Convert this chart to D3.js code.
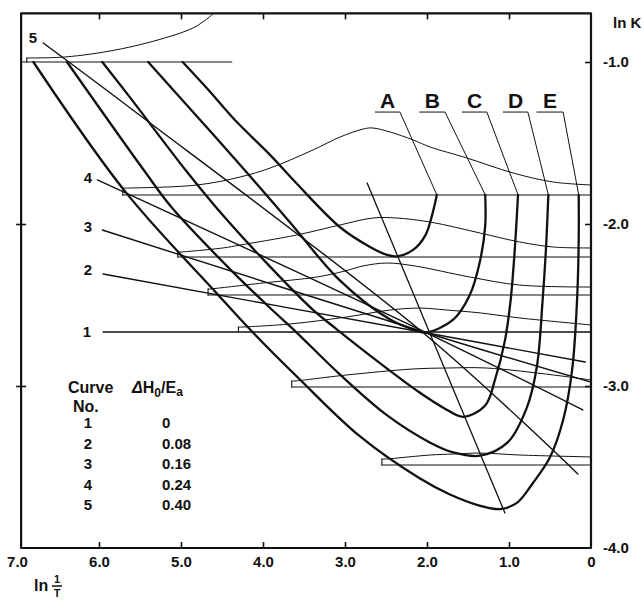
<!DOCTYPE html>
<html><head><meta charset="utf-8">
<script src="https://cdn.jsdelivr.net/npm/d3@7"></script>
<style>
body{margin:0;background:#fff}
svg{display:block}
text{font-family:"Liberation Sans",Arial,sans-serif;font-weight:bold;fill:#111}
</style>
</head><body>
<svg id="c" width="644" height="601"></svg>
<script>
// ---------- data (x = ln 1/T, y = ln K) ----------
const xTicks = [7, 6, 5, 4, 3, 2, 1, 0];
const xTickLabels = ["7.0", "6.0", "5.0", "4.0", "3.0", "2.0", "1.0", "0"];
const yTicks = [-1, -2, -3, -4];
const yTickLabels = ["-1.0", "-2.0", "-3.0", "-4.0"];
const frameX = [6.95, 0];
const frameY = [-0.70, -4.0];

const curveNames = ["A", "B", "C", "D", "E"];
const curveA = [[4.98,-1.00],[4.67,-1.17],[4.34,-1.36],[3.92,-1.57],[3.59,-1.75],[3.06,-2.02],[2.70,-2.14],[2.49,-2.19],[2.37,-2.20],[2.17,-2.16],[2.02,-2.07],[1.93,-1.93],[1.88,-1.82]];
const curveB = [[5.40,-1.00],[5.10,-1.17],[4.34,-1.60],[3.67,-1.99],[3.06,-2.35],[2.45,-2.59],[2.17,-2.65],[2.02,-2.67],[1.68,-2.59],[1.48,-2.44],[1.35,-2.22],[1.29,-2.01],[1.29,-1.82]];
const curveC = [[5.96,-1.00],[5.62,-1.22],[4.94,-1.67],[4.55,-1.91],[3.92,-2.26],[3.39,-2.53],[3.10,-2.65],[2.57,-2.86],[2.09,-3.04],[1.78,-3.14],[1.56,-3.19],[1.29,-3.12],[1.17,-2.96],[1.05,-2.72],[0.98,-2.47],[0.93,-2.16],[0.89,-1.82]];
const curveD = [[6.39,-1.00],[5.45,-1.67],[5.11,-1.90],[4.40,-2.28],[3.91,-2.52],[3.63,-2.65],[3.06,-2.93],[2.49,-3.18],[1.96,-3.35],[1.68,-3.41],[1.35,-3.43],[1.02,-3.35],[0.78,-3.13],[0.66,-2.88],[0.59,-2.47],[0.55,-2.16],[0.52,-1.82]];
const curveE = [[6.80,-1.00],[5.68,-1.80],[4.56,-2.43],[4.16,-2.65],[3.55,-2.96],[2.82,-3.31],[2.09,-3.57],[1.72,-3.67],[1.35,-3.74],[1.11,-3.76],[0.90,-3.72],[0.71,-3.60],[0.50,-3.44],[0.34,-3.21],[0.23,-2.90],[0.17,-2.47],[0.15,-2.10],[0.15,-1.82]];
const curveLabelUnder = [[2.63,2.33],[2.09,1.78],[1.57,1.27],[1.07,0.77],[0.66,0.34]];
const curveLabelY = -1.309;

const lineNos = ["1", "2", "3", "4", "5"];
const ratios = ["0", "0.08", "0.16", "0.24", "0.40"];
const line1 = [[5.95,-2.667],[0,-2.667]];
const line2 = [[5.95,-2.309],[2.0,-2.673],[0.07,-2.852]];
const line3 = [[5.96,-2.037],[2.0,-2.673],[0.01,-2.975]];
const line4 = [[6.02,-1.728],[2.0,-2.673],[0.10,-3.148]];
const line5 = [[6.68,-0.883],[5.62,-1.284],[2.0,-2.691],[0.16,-3.543]];
const minLocus = [[2.73,-1.747],[1.05,-3.784]];

const baseLevels = [-1.0, -1.821, -2.204, -2.438, -2.667, -3.006, -3.488];
const baseStart = [6.94, 5.71, 5.04, 4.67, 4.30, 3.65, 2.55];
const baseEnd = [4.38, 0, 0, 0, 0, 0, 0];
const hump1 = [[6.88,-0.975],[6.41,-0.969],[5.80,-0.926],[5.20,-0.852],[4.83,-0.784],[4.61,-0.704]];
const hump2 = [[5.71,-1.778],[5.65,-1.778],[4.80,-1.759],[4.28,-1.710],[3.91,-1.654],[3.39,-1.543],[3.06,-1.463],[2.78,-1.414],[2.67,-1.407],[2.45,-1.432],[2.17,-1.481],[1.96,-1.525],[1.51,-1.593],[0.95,-1.685],[0.46,-1.741],[0,-1.759]];
const hump3 = [[5.04,-2.173],[5.01,-2.173],[4.49,-2.148],[4.28,-2.130],[3.59,-2.068],[3.06,-2.006],[2.66,-1.963],[2.37,-1.963],[1.96,-1.988],[1.35,-2.056],[0.87,-2.111],[0.46,-2.142],[0,-2.148]];
const hump4 = [[4.67,-2.401],[4.65,-2.401],[4.00,-2.364],[3.34,-2.327],[3.00,-2.290],[2.78,-2.259],[2.49,-2.241],[2.15,-2.259],[1.48,-2.327],[0.87,-2.377],[0,-2.389]];
const hump5 = [[4.30,-2.636],[4.26,-2.636],[3.67,-2.617],[2.98,-2.574],[2.45,-2.531],[2.09,-2.519],[1.76,-2.531],[1.35,-2.549],[0.87,-2.580],[0,-2.623]];
const hump6 = [[3.65,-2.969],[3.61,-2.969],[2.98,-2.932],[2.17,-2.895],[1.76,-2.889],[1.27,-2.889],[0.46,-2.932],[0,-2.963]];
const hump7 = [[2.55,-3.451],[2.51,-3.451],[1.96,-3.426],[1.68,-3.420],[1.35,-3.414],[0.87,-3.426],[0,-3.438]];

// ---------- drawing ----------
const xs = d3.scaleLinear().domain([7, 0]).range([17, 591]);
const ys = d3.scaleLinear().domain([-1, -4]).range([62, 548]);
const svg = d3.select("#c");
const ink = "#111";
const smooth = d3.line().x(d => xs(d[0])).y(d => ys(d[1])).curve(d3.curveCatmullRom.alpha(0.5));
const straight = d3.line().x(d => xs(d[0])).y(d => ys(d[1]));

const g = svg.append("g").attr("fill", "none").attr("stroke", ink).attr("stroke-linejoin", "round").attr("stroke-linecap", "round");

// humps and their baselines (thin)
const humps = [hump1, hump2, hump3, hump4, hump5, hump6, hump7];
humps.forEach((h, i) => {
  const yb = baseLevels[i];
  if (i !== 4) g.append("path").attr("d", straight([[baseStart[i], yb], [baseEnd[i], yb]])).attr("stroke-width", 1.1);
  g.append("path").attr("d", straight([[h[0][0], yb], [h[0][0], h[0][1]]])).attr("stroke-width", 1.1);
  g.append("path").attr("d", smooth(h)).attr("stroke-width", 1.0);
});

// straight lines 1-5
[line1, line2, line3, line4, line5].forEach(l => {
  g.append("path").attr("d", smooth(l)).attr("stroke-width", 1.4);
});
g.append("path").attr("d", straight(minLocus)).attr("stroke-width", 1.3);

// thick curves A-E
const curves = [curveA, curveB, curveC, curveD, curveE];
curves.forEach(c => {
  g.append("path").attr("d", smooth(c)).attr("stroke-width", 2.3);
});

// labels A-E with underline & leader
curves.forEach((c, i) => {
  const u = curveLabelUnder[i];
  const end = c[c.length - 1];
  g.append("path").attr("d", straight([[u[0], curveLabelY], [u[1], curveLabelY], end])).attr("stroke-width", 1.0);
  svg.append("text").attr("x", (xs(u[0]) + xs(u[1])) / 2).attr("y", ys(curveLabelY) - 4)
    .attr("text-anchor", "middle").attr("font-size", 21).text(curveNames[i]);
});

// curve number labels
const numPos = [[87, 337], [88, 275], [88, 232], [88, 183], [33, 43]];
lineNos.forEach((n, i) => {
  svg.append("text").attr("x", numPos[i][0]).attr("y", numPos[i][1]).attr("text-anchor", "middle").attr("font-size", 15).text(n);
});

// frame
g.append("rect").attr("x", xs(frameX[0])).attr("y", ys(frameY[0]))
  .attr("width", xs(frameX[1]) - xs(frameX[0])).attr("height", ys(frameY[1]) - ys(frameY[0]))
  .attr("stroke-width", 2.2);

// axes
const axB = svg.append("g").attr("transform", `translate(0,${ys(frameY[1])})`)
  .call(d3.axisBottom(xs).tickValues(xTicks).tickFormat((d, i) => xTickLabels[i]).tickSizeInner(-6).tickSizeOuter(0).tickPadding(8));
const axT = svg.append("g").attr("transform", `translate(0,${ys(frameY[0])})`)
  .call(d3.axisTop(xs).tickValues(xTicks).tickFormat("").tickSizeInner(-6).tickSizeOuter(0));
const axR = svg.append("g").attr("transform", `translate(${xs(frameX[1])},0)`)
  .call(d3.axisRight(ys).tickValues(yTicks).tickFormat((d, i) => yTickLabels[i]).tickSizeInner(-6).tickSizeOuter(0).tickPadding(12));
const axL = svg.append("g").attr("transform", `translate(${xs(frameX[0]) + 5},0)`)
  .call(d3.axisLeft(ys).tickValues(yTicks.slice(1, 3)).tickFormat("").tickSizeInner(10).tickSizeOuter(0));
[axB, axT, axR, axL].forEach(a => {
  a.select(".domain").remove();
  a.selectAll(".tick line").attr("stroke", ink).attr("stroke-width", 1.6);
  a.selectAll("text").attr("font-size", 15).attr("fill", ink)
    .attr("font-family", '"Liberation Sans",Arial,sans-serif').attr("font-weight", "bold");
});
axB.selectAll(".tick").filter(d => d === 7 || d === 0).select("line").remove();
axT.selectAll(".tick").filter(d => d === 7 || d === 0).select("line").remove();
axR.selectAll(".tick").filter(d => d === -4).select("line").remove();

// axis titles
svg.append("text").attr("x", 613).attr("y", 28).attr("font-size", 15).text("ln K");
svg.append("text").attr("x", 34).attr("y", 591).attr("font-size", 16).text("ln");
svg.append("text").attr("x", 57).attr("y", 583).attr("font-size", 11).attr("text-anchor", "middle").text("1");
svg.append("line").attr("x1", 52).attr("x2", 62).attr("y1", 586).attr("y2", 586).attr("stroke", ink).attr("stroke-width", 1.5);
svg.append("text").attr("x", 57).attr("y", 597).attr("font-size", 11).attr("text-anchor", "middle").text("T");

// legend
svg.append("text").attr("x", 68).attr("y", 393).attr("font-size", 16).text("Curve");
const dh = svg.append("text").attr("x", 132).attr("y", 393).attr("font-size", 16);
dh.append("tspan").attr("font-style", "italic").text("Δ");
dh.append("tspan").text("H");
dh.append("tspan").attr("font-size", 12).attr("dy", 4).text("0");
dh.append("tspan").attr("dy", -4).text("/E");
dh.append("tspan").attr("font-size", 12).attr("dy", 3).text("a");
svg.append("text").attr("x", 73).attr("y", 412).attr("font-size", 16).text("No.");
lineNos.forEach((n, i) => {
  const yy = 428 + i * 20.5;
  svg.append("text").attr("x", 88).attr("y", yy).attr("text-anchor", "middle").attr("font-size", 15).text(n);
  svg.append("text").attr("x", 162).attr("y", yy).attr("font-size", 15).text(ratios[i]);
});
</script>
</body></html>
